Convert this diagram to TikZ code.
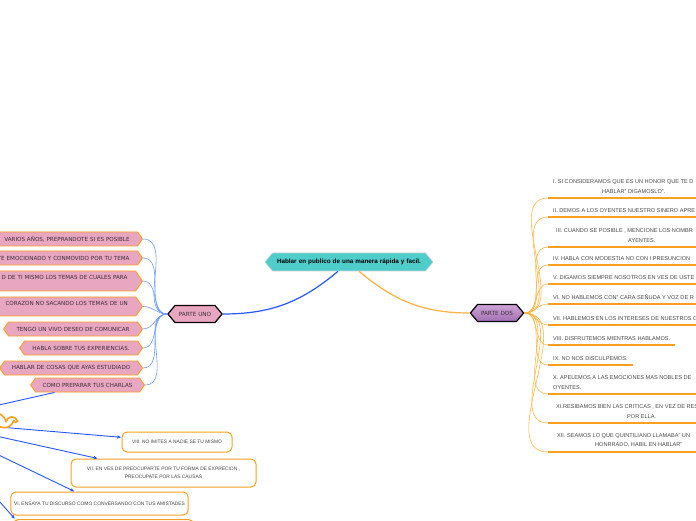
\documentclass[tikz,border=0pt]{standalone}
\usepackage{fontspec}
\setmainfont{Liberation Sans}
\newfontfamily\vera{DejaVu Sans}
\usetikzlibrary{shapes.symbols,arrows.meta}
\definecolor{tealfill}{RGB}{78,205,202}
\definecolor{tealedge}{RGB}{196,208,208}
\definecolor{pinkfill}{RGB}{232,166,193}
\definecolor{boxorange}{RGB}{250,160,30}
\definecolor{dostop}{RGB}{208,164,218}
\definecolor{dosbot}{RGB}{160,112,176}
\definecolor{darkblue}{RGB}{40,85,255}
\definecolor{fanblue}{RGB}{110,155,255}
\definecolor{fanorange}{RGB}{255,182,70}
\definecolor{inktext}{RGB}{70,70,70}
\definecolor{ideatext}{RGB}{60,45,55}

\tikzset{
	tema/.style={signal, signal to=east and west, signal pointer angle=100, fill=tealfill, draw=tealedge, line width=0.6pt, font=\bfseries\fontsize{6.3}{7}\selectfont, inner xsep=2pt, minimum height=18pt, align=center},
	parte/.style={signal, signal to=east and west, signal pointer angle=100, draw=black, line width=1.2pt, text=ideatext, font=\vera\fontsize{5.7}{7}\selectfont, inner xsep=2pt, minimum height=17pt, text width=36pt, align=center},
	idea/.style={signal, signal to=east and west, signal pointer angle=110, fill=pinkfill, draw=boxorange, line width=0.9pt, text=ideatext, font=\vera\fontsize{5.6}{7}\selectfont, inner xsep=2pt, inner ysep=1pt, minimum height=14pt, anchor=east},
	rama/.style={anchor=south west, inner xsep=5pt, inner ysep=4.5pt, text=inktext, font=\fontsize{5.6}{9.5}\selectfont, align=left},
	nota/.style={draw=boxorange, line width=1pt, fill=white, rounded corners=5pt, text=inktext, font=\fontsize{4.9}{8}\selectfont, align=center},
	subraya/.style={boxorange, line width=1.1pt},
	fanuno/.style={fanblue, line width=0.6pt},
	fandos/.style={fanorange, line width=0.6pt},
	flecha/.style={darkblue, line width=0.9pt, -{Latex[length=4pt,width=3.5pt]}}
}

\begin{document}
\begin{tikzpicture}[x=1pt, y=1pt]
			\useasboundingbox (0,0) rectangle (696,520);
			\clip (0,0) rectangle (696,520);
			
			% NODO CENTRAL
			\node[tema, text width=149pt] (tema) at (349,258) {Hablar en publico de una manera rápida y facil.};
			
			% PARTE UNO y PARTE DOS
			\node[parte, fill=pinkfill] (uno) at (195,206) {PARTE UNO};
			\node[parte, top color=dostop, bottom color=dosbot, text width=35pt] (dos) at (497,207) {PARTE DOS};
			\draw[darkblue, line width=1.2pt] ([xshift=-11pt]tema.south) to[out=220, in=0] (uno.east);
			\draw[fanorange!90!orange, line width=1.2pt] ([xshift=10pt]tema.south) to[out=-40, in=180] (dos.west);
			
			% IDEAS DE LA PARTE UNO
			\node[idea, text width=200pt, align=right, inner xsep=8pt] (n1) at (143,281) {VARIOS AÑOS, PREPRANDOTE SI ES POSIBLE};
			\node[idea, text width=200pt, align=right, inner xsep=8pt] (n2) at (143,262) {TE EMOCIONADO Y CONMOVIDO POR TU TEMA};
			\node[idea, text width=200pt, align=right, inner xsep=8pt, minimum height=20pt] (n3) at (143,239) {D DE TI MISMO LOS TEMAS DE CUALES PARA\hspace*{3pt}\\ ~};
			\node[idea, text width=200pt, align=right, inner xsep=8pt, minimum height=19pt] (n4) at (143,213.5) {CORAZON NO SACANDO LOS TEMAS DE UN\hspace*{10pt}\\ ~};
			\node[idea, text width=125pt, align=center] (n5) at (143,191) {TENGO UN VIVO DESEO DE COMUNICAR};
			\node[idea, text width=109pt, align=center] (n6) at (143,172) {HABLA SOBRE TUS EXPERIENCIAS.};
			\node[idea, text width=129pt, align=center] (n7) at (143,152) {HABLAR DE COSAS QUE AYAS ESTUDIADO};
			\node[idea, text width=100pt, align=center] (n8) at (145,135) {COMO PREPARAR TUS CHARLAS};
			
			% RAMAS AZULES
			\draw[fanuno] (uno.west) to[out=180, in=0] (n1.east);
			\draw[fanuno] (uno.west) to[out=180, in=0] (n2.east);
			\draw[fanuno] (uno.west) to[out=180, in=0] (n3.east);
			\draw[fanuno] (uno.west) to[out=180, in=0] (n4.east);
			\draw[fanuno] (uno.west) to[out=180, in=0] (n5.east);
			\draw[fanuno] (uno.west) to[out=180, in=0] (n6.east);
			\draw[fanuno] (uno.west) to[out=180, in=0] (n7.east);
			\draw[fanuno] (uno.west) to[out=180, in=0] (n8.east);
			
			% COMO PREPARAR TUS CHARLAS
			\coordinate (centro) at (-72,99);
			\node[nota, minimum width=110pt, minimum height=20pt] (b8) at (177,78) {VIII. NO IMITES A NADIE SE TU MISMO};
			\node[nota, minimum width=185pt, minimum height=28pt] (b7) at (163.5,47) {VII. EN VES DE PREOCUPARTE POR TU FORMA DE EXPRECION ,\\ PREOCUPATE POR LAS CAUSAS};
			\node[nota, minimum width=173pt, minimum height=23pt] (b6) at (99.5,16.5) {VI. ENSAYA TU DISCURSO COMO CONVERSANDO CON TUS AMISTADES};
			\node[nota, minimum width=180pt, minimum height=24pt, anchor=north west] (b5) at (13,1) {};
			
			% FLECHAS
			\draw[darkblue, line width=0.9pt] (centro) -- (n8);
			\draw[flecha] (centro) -- (b8);
			\draw[flecha] (centro) -- (b7);
			\draw[flecha] (centro) -- (b6);
			\draw[flecha] (centro) -- ([xshift=2pt]b5.north west);
			\node[cloud, cloud puffs=15, cloud ignores aspect, draw=boxorange, line width=1.6pt, fill=white, minimum width=176pt, minimum height=27pt] (charlas) at (centro) {};
			
			% IDEAS DE LA PARTE DOS
			\node[rama] (d1) at (548,322) {I. SI CONSIDERAMOS QUE ES UN HONOR QUE TE D\\\hspace*{49pt}HABLAR" DIGAMOSLO".};
			\node[rama] (d2) at (548,303) {II. DEMOS A LOS OYENTES NUESTRO SINERO APRE};
			\node[rama] (d3) at (548,273) {\hspace*{3pt}III. CUANDO SE POSIBLE , MENCIONE LOS NOMBR\\\hspace*{75pt}AYENTES.};
			\node[rama] (d4) at (548,255) {IV. HABLA CON MODESTIA NO CON I PRESUNCION};
			\node[rama] (d5) at (548,236) {V. DIGAMOS SIEMPRE NOSOTROS EN VES DE USTE};
			\node[rama] (d6) at (548,216) {VI. NO HABLEMOS CON" CARA SEÑUDA Y VOZ DE R};
			\node[rama] (d7) at (548,195) {VII. HABLEMOS EN LOS INTERESES DE NUESTROS O};
			\node[rama] (d8) at (548,175) {VIII. DISFRUTEMOS MIENTRAS HABLAMOS.};
			\node[rama] (d9) at (548,155) {IX. NO NOS DISCULPEMOS.};
			\node[rama] (d10) at (548,126) {X. APELEMOS A LAS EMOCIONES MAS NOBLES DE\\OYENTES.};
			\node[rama] (d11) at (548,97) {\hspace*{3pt}XI.RESIBAMOS BIEN LAS CRITICAS , EN VEZ DE RES\\\hspace*{74pt}POR ELLA.};
			\node[rama] (d12) at (548,68) {\hspace*{4pt}XII. SEAMOS LO QUE QUINTILIANO LLAMABA" UN\\\hspace*{42pt}HONRRADO, HABIL EN HABLAR"};
			
			% SUBRAYADOS
			\draw[subraya] (d1.south west) -- ++(160,0);
			\draw[subraya] (d2.south west) -- ++(160,0);
			\draw[subraya] (d3.south west) -- ++(160,0);
			\draw[subraya] (d4.south west) -- ++(160,0);
			\draw[subraya] (d5.south west) -- ++(160,0);
			\draw[subraya] (d6.south west) -- ++(160,0);
			\draw[subraya] (d7.south west) -- ++(160,0);
			\draw[subraya] (d8.south west) -- (d8.south east);
			\draw[subraya] (d9.south west) -- (d9.south east);
			\draw[subraya] (d10.south west) -- ++(160,0);
			\draw[subraya] (d11.south west) -- ++(160,0);
			\draw[subraya] (d12.south west) -- ++(160,0);
			
			% RAMAS NARANJAS
			\draw[fandos] (dos.east) to[out=0, in=180] (d1.south west);
			\draw[fandos] (dos.east) to[out=0, in=180] (d2.south west);
			\draw[fandos] (dos.east) to[out=0, in=180] (d3.south west);
			\draw[fandos] (dos.east) to[out=0, in=180] (d4.south west);
			\draw[fandos] (dos.east) to[out=0, in=180] (d5.south west);
			\draw[fandos] (dos.east) to[out=0, in=180] (d6.south west);
			\draw[fandos] (dos.east) to[out=0, in=180] (d7.south west);
			\draw[fandos] (dos.east) to[out=0, in=180] (d8.south west);
			\draw[fandos] (dos.east) to[out=0, in=180] (d9.south west);
			\draw[fandos] (dos.east) to[out=0, in=180] (d10.south west);
			\draw[fandos] (dos.east) to[out=0, in=180] (d11.south west);
			\draw[fandos] (dos.east) to[out=0, in=180] (d12.south west);
			
		\end{tikzpicture}
\end{document}
